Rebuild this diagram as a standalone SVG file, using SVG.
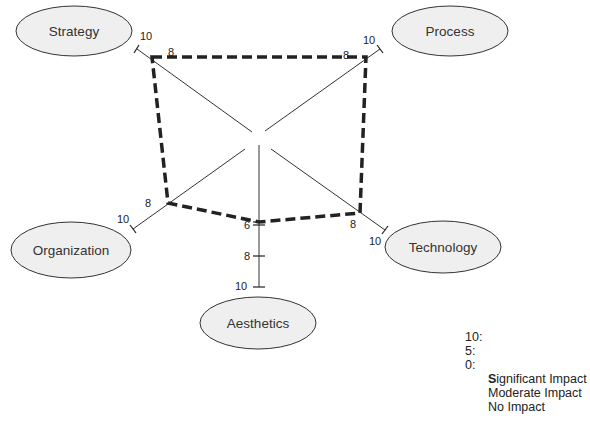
<svg xmlns="http://www.w3.org/2000/svg" width="590" height="424" viewBox="0 0 590 424">
  <style>
    .node ellipse { fill: #efefef; stroke: #333; stroke-width: 1; }
    .node text { font-family: "Liberation Sans", Arial, sans-serif; font-size: 13.5px; fill: #333; text-anchor: middle; }
    .spoke { stroke: #333; stroke-width: 1; fill: none; }
    .tick { stroke: #222; stroke-width: 1.2; fill: none; }
    .score { stroke: #222; stroke-width: 3.5; fill: none; stroke-dasharray: 10 5; stroke-linejoin: miter; }
    .lbl { font-family: "Liberation Sans", Arial, sans-serif; font-size: 11px; fill: #222; }
    .legend { font-family: "Liberation Sans", Arial, sans-serif; font-size: 12.5px; fill: #222; }
  </style>
  <rect width="590" height="424" fill="#fff"/>

  <g id="connectors">
    <!-- radial axes -->
    <line class="spoke" x1="252" y1="132" x2="137" y2="49"/>
    <line class="spoke" x1="265" y1="131" x2="380" y2="49"/>
    <line class="spoke" x1="245" y1="149" x2="133" y2="229"/>
    <line class="spoke" x1="271" y1="149" x2="385" y2="230"/>
    <line class="spoke" x1="259" y1="145" x2="259" y2="287" stroke-width="1.3"/>
    <!-- end ticks -->
    <line class="tick" x1="134" y1="53" x2="139" y2="45"/>
    <line class="tick" x1="377" y1="45" x2="383" y2="53"/>
    <line class="tick" x1="130" y1="225" x2="136" y2="233"/>
    <line class="tick" x1="382" y1="234" x2="388" y2="226"/>
    <line class="tick" x1="253" y1="287" x2="265" y2="287"/>
    <line class="tick" x1="253" y1="256" x2="265" y2="256"/>
    <line class="tick" x1="253" y1="222" x2="265" y2="222"/>
    <line class="tick" x1="253" y1="225" x2="265" y2="225"/>
    <!-- score polygon -->
    <polygon class="score" points="152,57 366,57 360,213 259,222 168,203"/>
    <!-- axis values -->
    <text class="lbl" x="140" y="40">10</text>
    <text class="lbl" x="168" y="56">8</text>
    <text class="lbl" x="363" y="44">10</text>
    <text class="lbl" x="343" y="59">8</text>
    <text class="lbl" x="117" y="223">10</text>
    <text class="lbl" x="145" y="207">8</text>
    <text class="lbl" x="350" y="228">8</text>
    <text class="lbl" x="369" y="245">10</text>
    <text class="lbl" x="244" y="229">6</text>
    <text class="lbl" x="244" y="260">8</text>
    <text class="lbl" x="235" y="290">10</text>
  </g>

  <g id="strategy" class="node">
    <ellipse cx="74" cy="31" rx="58" ry="25"/>
    <text x="74" y="36">Strategy</text>
  </g>
  <g id="process" class="node">
    <ellipse cx="450" cy="31" rx="58" ry="25"/>
    <text x="450" y="36">Process</text>
  </g>
  <g id="organization" class="node">
    <ellipse cx="71" cy="250" rx="60" ry="28"/>
    <text x="71" y="255">Organization</text>
  </g>
  <g id="technology" class="node">
    <ellipse cx="443" cy="247" rx="58" ry="26"/>
    <text x="443" y="252">Technology</text>
  </g>
  <g id="aesthetics" class="node">
    <ellipse cx="258" cy="323" rx="58" ry="26"/>
    <text x="258" y="328">Aesthetics</text>
  </g>

  <g id="legend" class="legend">
    <text x="465" y="341">10:</text>
    <text x="465" y="355">5:</text>
    <text x="465" y="369">0:</text>
    <text x="488" y="383"><tspan font-weight="bold">S</tspan>ignificant Impact</text>
    <text x="488" y="397">Moderate Impact</text>
    <text x="488" y="411">No Impact</text>
  </g>
</svg>
